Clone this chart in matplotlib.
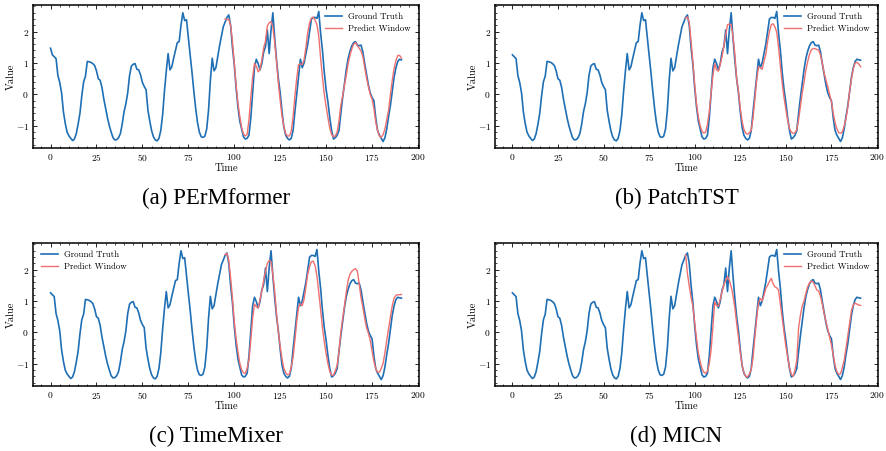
import matplotlib
matplotlib.use("Agg")
import matplotlib.pyplot as plt
from matplotlib.ticker import MultipleLocator, AutoMinorLocator

plt.rcParams['font.family'] = 'serif'
plt.rcParams['font.serif'] = ['cmr10', 'DejaVu Serif']
plt.rcParams['mathtext.fontset'] = 'cm'
plt.rcParams['axes.formatter.use_mathtext'] = True
plt.rcParams['axes.unicode_minus'] = True

# Ground truth (t = 0..191)
ground_truth = [
    1.26, 1.20, 1.14, 0.60, 0.38, 0.05, -0.55, -0.92, -1.20, -1.32,
    -1.40, -1.47, -1.42, -1.25, -0.95, -0.60, -0.05, 0.40, 0.58, 1.05,
    1.04, 1.02, 0.98, 0.92, 0.75, 0.50, 0.45, 0.22, -0.15, -0.45,
    -0.75, -1.00, -1.20, -1.38, -1.45, -1.44, -1.38, -1.25, -0.95, -0.55,
    -0.30, 0.05, 0.60, 0.90, 0.96, 0.98, 0.80, 0.78, 0.62, 0.38,
    0.25, 0.15, -0.50, -0.85, -1.15, -1.35, -1.45, -1.48, -1.40, -1.15,
    -0.65, 0.10, 0.75, 1.30, 0.78, 0.88, 1.15, 1.40, 1.65, 1.68,
    2.20, 2.60, 2.35, 2.38, 1.80, 1.25, 0.70, 0.10, -0.45, -0.90,
    -1.20, -1.35, -1.37, -1.33, -1.10, -0.50, 0.45, 1.15, 0.75, 0.85,
    1.20, 1.55, 1.85, 2.15, 2.30, 2.45, 2.53, 2.20, 1.50, 0.95,
    0.20, -0.40, -0.85, -1.10, -1.35, -1.42, -1.40, -1.30, -0.75, 0.05,
    0.85, 1.12, 0.98, 0.78, 0.98, 1.35, 1.52, 2.05, 1.30, 2.05,
    2.60, 1.80, 1.10, 0.50, 0.05, -0.55, -1.05, -1.30, -1.40, -1.45,
    -1.40, -1.15, -0.55, 0.00, 0.55, 1.12, 0.85, 1.00, 1.30, 1.60,
    2.00, 2.40, 2.45, 2.45, 2.42, 2.64, 1.95, 1.40, 0.70, 0.15,
    -0.25, -0.75, -1.15, -1.42, -1.38, -1.30, -1.15, -0.60, -0.10, 0.35,
    0.80, 1.15, 1.38, 1.55, 1.65, 1.68, 1.57, 1.55, 1.57, 1.35,
    0.98, 0.65, 0.30, 0.05, -0.10, -0.20, -0.75, -1.15, -1.30, -1.40,
    -1.50, -1.38, -1.10, -0.70, -0.35, 0.10, 0.55, 0.85, 1.05, 1.12,
    1.10, 1.09,
]
# panel (a) shows the same series one step earlier
first_value_a = 1.47
ground_truth_a = [first_value_a] + ground_truth[:-1]

pred_start = 95
# Predictions (t = 95..191)
pred_permformer = [
    2.40, 2.38, 2.39, 2.20, 1.70, 1.00, 0.30, -0.28, -0.70, -1.05,
    -1.26, -1.32, -1.28, -0.80, -0.10, 0.55, 0.99, 0.90, 0.72, 0.80,
    1.10, 1.48, 1.70, 2.18, 2.28, 2.32, 2.15, 1.65, 1.05, 0.35,
    -0.20, -0.70, -1.02, -1.25, -1.33, -1.32, -1.18, -0.72, -0.05, 0.52,
    0.95, 0.97, 0.95, 1.10, 1.50, 1.98, 2.28, 2.43, 2.46, 2.36,
    2.22, 1.85, 1.15, 0.55, 0.00, -0.39, -0.75, -1.08, -1.28, -1.35,
    -1.32, -1.20, -0.85, -0.35, -0.05, 0.30, 0.62, 0.99, 1.25, 1.45,
    1.60, 1.65, 1.55, 1.47, 1.38, 1.20, 0.85, 0.52, 0.25, 0.00,
    -0.15, -0.45, -0.88, -1.15, -1.33, -1.37, -1.28, -1.10, -0.80, -0.50,
    0.00, 0.45, 0.83, 1.08, 1.24, 1.24, 1.16,
]
pred_patchtst = [
    2.43, 2.47, 2.30, 1.70, 1.05, 0.30, -0.30, -0.72, -1.00, -1.18,
    -1.23, -1.20, -0.95, -0.55, 0.05, 0.60, 0.98, 0.78, 0.74, 0.95,
    1.20, 1.55, 1.90, 2.22, 2.24, 2.22, 1.85, 1.30, 0.50, 0.10,
    -0.45, -0.85, -1.12, -1.23, -1.27, -1.22, -1.14, -0.75, -0.15, 0.45,
    0.88, 0.85, 0.80, 1.05, 1.27, 1.68, 2.00, 2.22, 2.25, 2.15,
    1.98, 1.50, 0.90, 0.35, -0.10, -0.48, -0.82, -1.09, -1.20, -1.24,
    -1.22, -1.12, -0.80, -0.38, 0.05, 0.40, 0.78, 1.05, 1.28, 1.42,
    1.46, 1.46, 1.43, 1.41, 1.25, 1.00, 0.68, 0.46, 0.25, 0.00,
    -0.23, -0.60, -0.90, -1.10, -1.22, -1.24, -1.19, -1.00, -0.77, -0.40,
    0.10, 0.50, 0.82, 1.00, 1.02, 0.97, 0.88,
]
pred_timemixer = [
    2.47, 2.52, 2.30, 1.75, 1.10, 0.35, -0.20, -0.62, -0.98, -1.19,
    -1.28, -1.31, -1.15, -0.87, -0.25, 0.45, 0.90, 0.82, 0.78, 1.04,
    1.32, 1.65, 1.95, 2.20, 2.29, 2.25, 1.85, 1.30, 0.60, 0.00,
    -0.45, -0.85, -1.15, -1.28, -1.35, -1.33, -1.10, -0.80, -0.25, 0.35,
    0.80, 0.92, 0.85, 1.05, 1.45, 1.86, 2.10, 2.25, 2.27, 2.12,
    1.80, 1.28, 0.72, 0.15, -0.30, -0.68, -1.00, -1.25, -1.36, -1.36,
    -1.22, -1.05, -0.60, 0.00, 0.45, 0.85, 1.30, 1.67, 1.85, 1.95,
    2.00, 2.03, 1.95, 1.55, 1.10, 0.80, 0.45, 0.15, -0.02, -0.25,
    -0.60, -0.92, -1.15, -1.27, -1.27, -1.15, -0.98, -0.65, -0.25, 0.12,
    0.50, 0.85, 1.09, 1.18, 1.20, 1.20, 1.21,
]
pred_micn = [
    2.47, 1.88, 1.48, 1.12, 0.83, 0.30, -0.20, -0.65, -0.93, -1.15,
    -1.27, -1.30, -1.24, -1.00, -0.55, 0.20, 0.98, 0.85, 0.84, 1.05,
    1.30, 1.52, 1.65, 1.78, 1.65, 1.46, 1.18, 0.80, 0.30, -0.15,
    -0.65, -1.05, -1.28, -1.40, -1.42, -1.32, -1.19, -0.80, -0.15, 0.45,
    0.95, 1.08, 1.00, 1.18, 1.40, 1.50, 1.62, 1.72, 1.55, 1.45,
    1.42, 1.35, 0.90, 0.45, 0.00, -0.44, -0.78, -1.12, -1.34, -1.40,
    -1.20, -0.88, 0.15, 0.55, 0.85, 1.00, 1.25, 1.46, 1.58, 1.64,
    1.60, 1.48, 1.35, 1.32, 1.15, 0.90, 0.60, 0.35, 0.10, -0.15,
    -0.40, -0.72, -1.05, -1.25, -1.34, -1.32, -1.12, -0.88, -0.50, -0.10,
    0.30, 0.70, 0.88, 0.93, 0.90, 0.87, 0.86,
]

panels = [
    ("(a) PErMformer", ground_truth_a, pred_permformer, "upper right"),
    ("(b) PatchTST", ground_truth, pred_patchtst, "upper right"),
    ("(c) TimeMixer", ground_truth, pred_timemixer, "upper left"),
    ("(d) MICN", ground_truth, pred_micn, "upper right"),
]

W, H = 887, 451
fig = plt.figure(figsize=(W / 100, H / 100), dpi=100)

lefts = [33, 495]
tops = [5, 243]
widths = [386, 383]
ah = 143
blue = '#1f6fb4'
red = '#f07070'

for i, (caption, gt, pred, loc) in enumerate(panels):
    r, c = divmod(i, 2)
    x0 = lefts[c]
    y0 = tops[r]
    aw = widths[c]
    ax = fig.add_axes([x0 / W, 1 - (y0 + ah) / H, aw / W, ah / H])
    ax.plot(range(len(gt)), gt, color=blue, lw=1.2, label='Ground Truth')
    ax.plot(range(pred_start, pred_start + len(pred)), pred, color=red, lw=1.0,
            label='Predict Window')
    ax.set_xlim(-9.55, 200.55)
    ax.xaxis.set_major_locator(MultipleLocator(25))
    ax.xaxis.set_minor_locator(AutoMinorLocator(5))
    ax.yaxis.set_major_locator(MultipleLocator(1))
    ax.yaxis.set_minor_locator(AutoMinorLocator(5))
    ax.tick_params(which='both', direction='in', top=True, right=True, labelsize=6.8)
    ax.tick_params(which='major', length=3, width=0.6, pad=3)
    ax.tick_params(which='minor', length=1.6, width=0.5)
    for s in ax.spines.values():
        s.set_linewidth(1.1)
    ax.set_xlabel('Time', fontsize=7.5, labelpad=0)
    ax.set_ylabel('Value', fontsize=7.5, labelpad=0)
    ax.legend(loc=loc, frameon=False, fontsize=6.3, handlelength=2.0,
              handletextpad=0.7, borderaxespad=0.5, labelspacing=0.35)
    fig.text((x0 + aw / 2 - 10) / W, 1 - (y0 + 193) / H, caption,
             ha='center', va='center', fontsize=16.5, family='Liberation Serif')

fig.savefig('out.png', dpi=100)
